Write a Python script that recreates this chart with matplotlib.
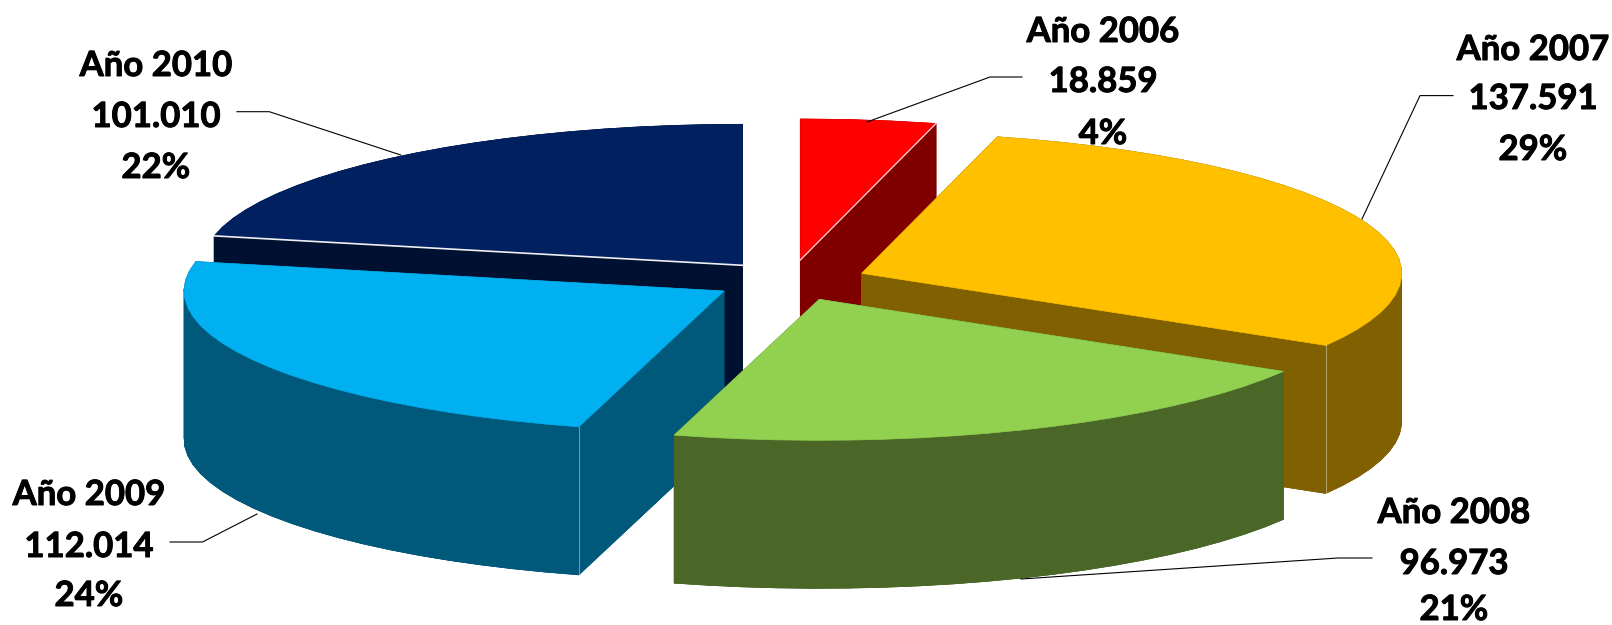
import numpy as np
import matplotlib
matplotlib.use('Agg')
import matplotlib.pyplot as plt
import matplotlib.patheffects as pe

# Data
years = ['Año 2006', 'Año 2007', 'Año 2008', 'Año 2009', 'Año 2010']
values = [18859, 137591, 96973, 112014, 101010]
value_labels = ['18.859', '137.591', '96.973', '112.014', '101.010']
pct_labels = ['4%', '29%', '21%', '24%', '22%']

# Style
top_colors = ['#FF0000', '#FFC000', '#92D050', '#00B0F0', '#002060']
wall_colors = ['#800000', '#806000', '#4A6728', '#00587A', '#001030']

# Layout, in pixels of the reference
apex = [(800.3, 260), (861.7, 273.3), (819.3, 299.3), (724, 291), (742.3, 265.3)]
rx, ry, depth = 540, 141, 148
draw_order = [4, 0, 1, 3, 2]
label_x = [1103, 1533, 1454, 89, 156]
label_y = [(32, 82, 134), (50, 99, 150), (513, 564, 610), (495, 547, 596), (66, 117, 168)]
leaders = [
    [(867, 122), (990, 77), (1022, 77)],
    [(1362, 219), (1420, 95.6), (1453, 95.6)],
    [(1021, 579), (1338, 558), (1372, 558)],
    [(257, 514), (202.5, 542), (170, 542)],
    [(400.7, 155), (269.3, 111.7), (237, 111.7)],
]

fig = plt.figure(figsize=(16.12, 6.25), dpi=100)
ax = fig.add_axes([0, 0, 1, 1])
ax.set_xlim(0, 1612)
ax.set_ylim(625, 0)
ax.axis('off')

# Slice angles, clockwise from 12 o'clock
edges = np.concatenate([[0], np.cumsum(values)]) / np.sum(values) * 2 * np.pi


def arc_points(i):
    # coarse steps give the faceted rim of the original
    n = max(3, int(np.degrees(edges[i + 1] - edges[i]) / 3.5))
    t = np.linspace(edges[i], edges[i + 1], n)
    return apex[i][0] + rx * np.sin(t), apex[i][1] - ry * np.cos(t)


for i in draw_order:
    x, y = arc_points(i)
    cx, cy = apex[i]
    wall = wall_colors[i]

    # bottom face
    ax.fill(np.r_[cx, x], np.r_[cy, y] + depth, color=wall, lw=0.5)
    # rim wall, one quad per facet because the strip folds over at the sides
    for k in range(len(x) - 1):
        ax.fill([x[k], x[k + 1], x[k + 1], x[k]],
                [y[k], y[k + 1], y[k + 1] + depth, y[k] + depth], color=wall, lw=0.5)
    # radial walls
    for k in (0, -1):
        ax.fill([cx, x[k], x[k], cx], [cy, y[k], y[k] + depth, cy + depth], color=wall, lw=0.5)

    # top face
    ax.fill(np.r_[cx, x], np.r_[cy, y], color=top_colors[i], lw=0.5)

    # thin light edges
    if i == 0:
        ax.plot([cx, x[-1]], [cy, y[-1]], color='#FFD8D8', lw=0.9)
    if i == 4:
        ax.plot([cx, x[0]], [cy, y[0]], color='#F0F0F0', lw=1.2)
    if i == 1:
        ax.plot([x[-1], x[-1]], [y[-1], y[-1] + depth], color='white', alpha=0.4, lw=0.8)
    if i == 3:
        ax.plot([x[0], x[0]], [y[0], y[0] + depth], color='white', alpha=0.4, lw=0.8)

# leader lines
for pts in leaders:
    ax.plot([p[0] for p in pts], [p[1] for p in pts], color='black', lw=0.8, zorder=3)

# labels
for i in range(len(years)):
    lines = [years[i], value_labels[i], pct_labels[i]]
    for line, ly in zip(lines, label_y[i]):
        t = ax.text(label_x[i], ly, line, ha='center', va='center', fontsize=25,
                    fontweight='bold', family='Lato', color='black', zorder=4)
        t.set_path_effects([pe.withStroke(linewidth=0.7, foreground='black')])

fig.savefig('out.png', dpi=100)
